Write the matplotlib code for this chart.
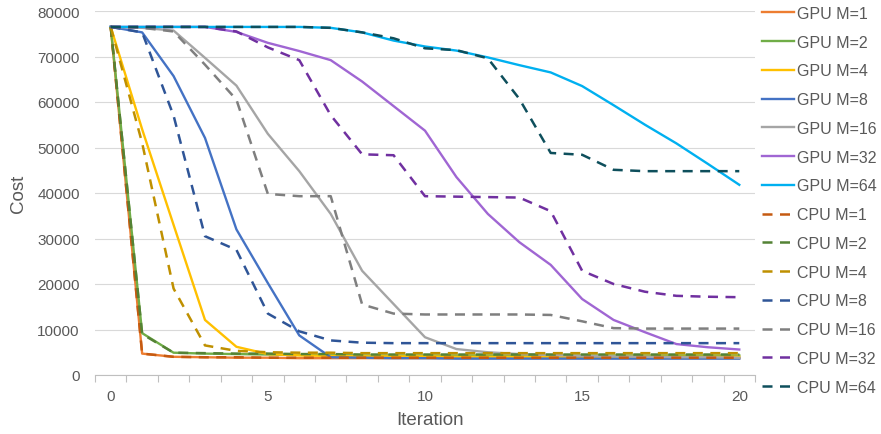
import matplotlib
matplotlib.use("Agg")
import matplotlib.pyplot as plt
from matplotlib.ticker import MultipleLocator, FixedLocator

plt.rcParams['font.family'] = ['Liberation Sans', 'DejaVu Sans']

iterations = list(range(21))

gpu_m1 = [76500, 4700, 4000, 3900, 3800, 3800, 3700, 3700, 3700, 3700, 3700,
          3700, 3700, 3700, 3700, 3700, 3700, 3700, 3700, 3700, 3700]
gpu_m2 = [76500, 9200, 4900, 4700, 4600, 4500, 4400, 4400, 4300, 4300, 4300,
          4300, 4300, 4300, 4300, 4300, 4300, 4300, 4300, 4300, 4300]
gpu_m4 = [76500, 54000, 33000, 12100, 6200, 4600, 4300, 4200, 4100, 4100, 4100,
          4000, 4000, 4000, 4000, 4000, 4000, 4000, 4000, 4000, 4000]
gpu_m8 = [76500, 75300, 65700, 52100, 32000, 20200, 8700, 3900, 3800, 3700, 3700,
          3600, 3600, 3600, 3600, 3600, 3600, 3600, 3600, 3600, 3600]
gpu_m16 = [76500, 76300, 75700, 69700, 63600, 53000, 44800, 35400, 22900, 15600, 8300,
           5700, 5000, 4600, 4400, 4200, 4100, 4000, 3900, 3900, 3800]
gpu_m32 = [76500, 76500, 76500, 76500, 75400, 73000, 71200, 69200, 64500, 59100, 53700,
           43500, 35400, 29200, 24200, 16700, 12100, 9400, 6800, 6100, 5600]
gpu_m64 = [76500, 76500, 76500, 76500, 76500, 76500, 76500, 76300, 75300, 73500, 72200,
           71300, 69800, 68100, 66500, 63500, 59300, 55000, 50900, 46400, 41800]

cpu_m1 = [76500, 4700, 4000, 3900, 3900, 3800, 3800, 3800, 3800, 3800, 3800,
          3800, 3800, 3800, 3800, 3800, 3800, 3800, 3800, 3800, 3800]
cpu_m2 = [76500, 9000, 4900, 4800, 4700, 4700, 4600, 4600, 4500, 4500, 4500,
          4500, 4500, 4500, 4500, 4500, 4500, 4500, 4500, 4500, 4500]
cpu_m4 = [76500, 51000, 19000, 6500, 5300, 5000, 4900, 4900, 4800, 4800, 4800,
          4800, 4800, 4800, 4800, 4800, 4800, 4800, 4800, 4800, 4800]
cpu_m8 = [76500, 75300, 57000, 30500, 27500, 13500, 9600, 7600, 7100, 7000, 7000,
          7000, 7000, 7000, 7000, 7000, 7000, 7000, 7000, 7000, 7000]
cpu_m16 = [76500, 76300, 75500, 68200, 60500, 39800, 39300, 39300, 15500, 13500, 13300,
           13300, 13300, 13300, 13200, 11800, 10300, 10200, 10200, 10200, 10200]
cpu_m32 = [76500, 76500, 76500, 76500, 75500, 72000, 69200, 57100, 48500, 48300, 39300,
           39200, 39100, 39000, 36000, 22900, 20000, 18300, 17400, 17200, 17100]
cpu_m64 = [76500, 76500, 76500, 76500, 76500, 76500, 76500, 76300, 75300, 74000, 71800,
           71400, 69600, 60700, 48800, 48400, 45100, 44800, 44800, 44800, 44800]

labels = ["GPU M=1", "GPU M=2", "GPU M=4", "GPU M=8", "GPU M=16", "GPU M=32", "GPU M=64",
          "CPU M=1", "CPU M=2", "CPU M=4", "CPU M=8", "CPU M=16", "CPU M=32", "CPU M=64"]
series = [gpu_m1, gpu_m2, gpu_m4, gpu_m8, gpu_m16, gpu_m32, gpu_m64,
          cpu_m1, cpu_m2, cpu_m4, cpu_m8, cpu_m16, cpu_m32, cpu_m64]
colors = ["#ED7D31", "#70AD47", "#FFC000", "#4472C4", "#A5A5A5", "#A066D3", "#00B0F0",
          "#C55A11", "#548235", "#BF9000", "#2F5597", "#7F7F7F", "#7030A0", "#0E4F5C"]

fig = plt.figure(figsize=(8.81, 4.35), dpi=100)
ax = fig.add_axes([95/881, 1-376/435, (755-95)/881, (376-12)/435])

for i, (lab, ys, c) in enumerate(zip(labels, series, colors)):
    if lab.startswith("GPU"):
        ax.plot(iterations, ys, color=c, lw=1.7, label=lab, zorder=2+i*0.1,
                solid_joinstyle='round')
    else:
        ax.plot(iterations, ys, color=c, lw=1.8, label=lab, dashes=(4, 3),
                zorder=2+i*0.1)

ax.set_xlim(-0.5, 20.5)
ax.set_ylim(0, 80000)
ax.yaxis.set_major_locator(MultipleLocator(10000))
ax.xaxis.set_major_locator(FixedLocator([0, 5, 10, 15, 20]))
ax.xaxis.set_minor_locator(FixedLocator([k - 0.5 for k in range(22)]))
ax.tick_params(axis='x', which='major', length=0, pad=10, labelsize=11, labelcolor="#595959")
ax.tick_params(axis='x', which='minor', length=5, color="#BFBFBF", width=0.8)
ax.tick_params(axis='y', length=0, pad=11, labelsize=11, labelcolor="#595959")
ax.grid(axis='y', color="#D9D9D9", lw=0.8, zorder=0)
ax.set_axisbelow(True)
for s in ['left', 'right', 'top']:
    ax.spines[s].set_visible(False)
ax.spines['bottom'].set_color("#BFBFBF")
ax.spines['bottom'].set_linewidth(0.8)

ax.set_xlabel("Iteration", fontsize=13.5, color="#595959")
ax.set_ylabel("Cost", fontsize=13.5, color="#595959")
ax.xaxis.set_label_coords((430-95)/660, (376-412)/364)
ax.yaxis.set_label_coords((27-95)/660, 0.5)

leg = fig.legend(loc='upper left', bbox_to_anchor=(762/881, 1 - 7/435), frameon=False,
                 fontsize=11.5, labelcolor="#595959", handlelength=2.0,
                 handletextpad=0.2, labelspacing=0.86, borderaxespad=0, borderpad=0)

fig.savefig("out.png", dpi=100, facecolor="white")
